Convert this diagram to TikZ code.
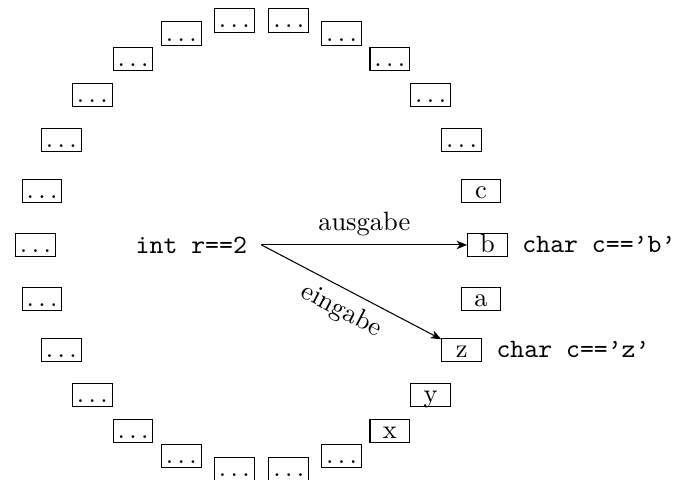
\documentclass[tikz,border=0pt]{standalone}
\usetikzlibrary{positioning,arrows.meta}
\newcommand{\punkte}{.\kern1.67pt.\kern1.67pt.}

\begin{document}
\begin{tikzpicture}
    \tikzstyle{cell}=[draw, minimum width=15pt, inner sep=0.6pt, text height=6.6pt, text depth=1pt]
    \tikzstyle{decl}=[inner sep=0pt, font=\ttfamily]
    \tikzstyle{pfeil}=[-{Stealth[length=4pt,width=3.2pt,inset=1.2pt]}]
    \useasboundingbox (-98.75pt,-88.4pt) rectangle (155.4pt,92.5pt);
    \coordinate (r) at (0,0);
    % ring of 26 cells, a at the right just below b
    \foreach \txt [count=\n from 0] in {a,b,c,\punkte,\punkte,\punkte,\punkte,\punkte,\punkte,\punkte,\punkte,\punkte,\punkte,\punkte,\punkte,\punkte,\punkte,\punkte,\punkte,\punkte,\punkte,\punkte,\punkte,x,y,z}
        \node[cell] (box\n) at ({(\n-1)*360/26}:3cm) {\txt};
    \node[decl, left=5.3pt of r] (int) {int r==2};
    \node[decl, right=5.3pt of box1.base east, anchor=base west] (charb) {char c==’b’};
    \node[decl, right=5.3pt of box25.base east, anchor=base west] (charz) {char c==’z’};
    \draw[pfeil] (r) -- node[above] {ausgabe} (box1);
    \draw[pfeil] (r) -- node[below, sloped] {eingabe} (box25);
\end{tikzpicture}
\end{document}
